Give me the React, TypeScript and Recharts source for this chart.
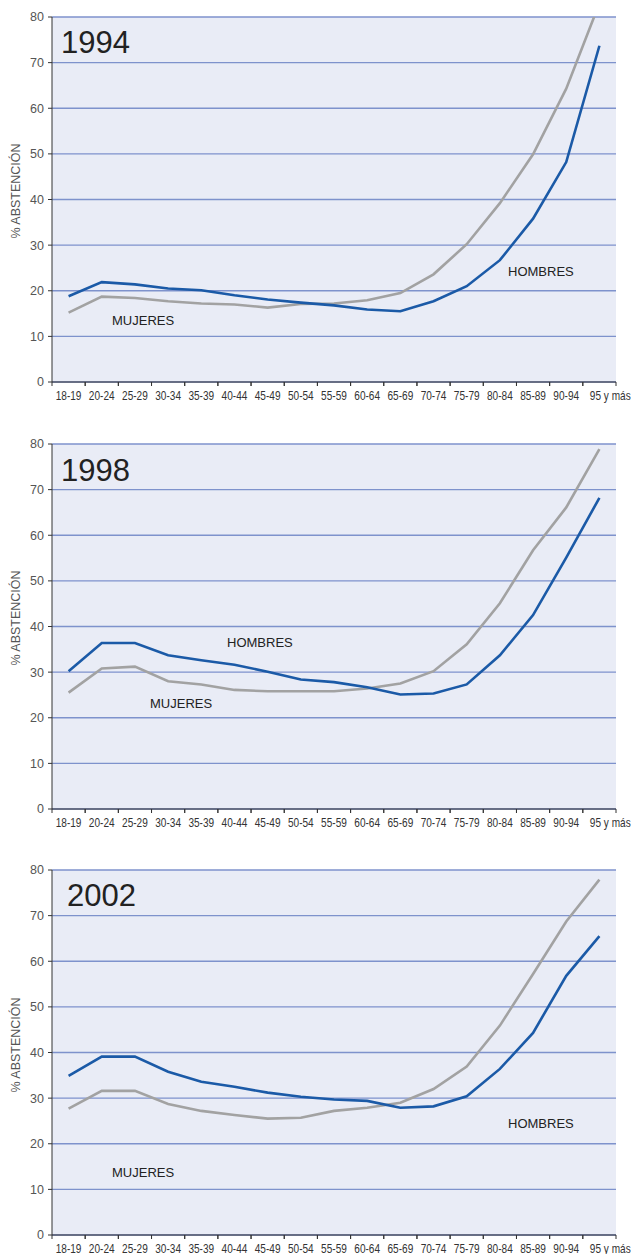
import { CartesianGrid, Line, LineChart, XAxis, YAxis } from "recharts";

const CATEGORIAS = [
  "18-19", "20-24", "25-29", "30-34", "35-39", "40-44", "45-49", "50-54", "55-59",
  "60-64", "65-69", "70-74", "75-79", "80-84", "85-89", "90-94", "95 y más",
];

const HOMBRES_1994 = [18.8, 21.9, 21.4, 20.5, 20.1, 19.0, 18.1, 17.4, 16.8, 15.9, 15.5, 17.7, 21.0, 26.7, 35.8, 48.2, 73.7];
const MUJERES_1994 = [15.2, 18.7, 18.4, 17.7, 17.2, 17.0, 16.3, 17.1, 17.2, 17.9, 19.5, 23.6, 30.2, 39.2, 49.9, 64.3, 83.0];

const HOMBRES_1998 = [30.2, 36.4, 36.4, 33.7, 32.6, 31.6, 30.1, 28.4, 27.8, 26.7, 25.1, 25.3, 27.3, 33.7, 42.5, 55.1, 68.2];
const MUJERES_1998 = [25.5, 30.8, 31.2, 28.0, 27.3, 26.1, 25.8, 25.8, 25.8, 26.4, 27.5, 30.2, 36.1, 45.1, 56.7, 66.1, 78.9];

const HOMBRES_2002 = [34.9, 39.1, 39.1, 35.8, 33.6, 32.5, 31.2, 30.3, 29.7, 29.4, 27.9, 28.2, 30.4, 36.4, 44.3, 56.8, 65.5];
const MUJERES_2002 = [27.7, 31.6, 31.6, 28.7, 27.2, 26.3, 25.5, 25.7, 27.2, 27.9, 29.0, 32.0, 36.9, 45.9, 57.2, 68.7, 77.9];

const Y_TICKS = [0, 10, 20, 30, 40, 50, 60, 70, 80];

const CHART_W = 636;
const Y_AXIS_W = 52;
const RIGHT_M = 20;
const TOP_M = 10;
const PLOT_H = 365;
const X_AXIS_H = 30;
const BAND = (CHART_W - Y_AXIS_W - RIGHT_M) / CATEGORIAS.length;

const AZUL = "#1b5aa7";
const GRIS = "#a2a2a2";
const REJILLA = "#7e92cc";
const FONDO = "#e9ecf6";
const SANS = "'Liberation Sans', Arial, Helvetica, sans-serif";

// the age labels are set in a condensed face; squeeze the regular one.
// the last label is pushed right so it clears its neighbour, as in the original
function EdadTick(props: any) {
  const { x, y, payload } = props;
  const half = BAND / 2;
  const ultimo = payload.index === CATEGORIAS.length - 1;
  const tx = ultimo ? x - half + 7 : x;
  return (
    <g>
      <line x1={x - half} x2={x - half} y1={y} y2={y + 4} stroke="#333" />
      <line x1={x + half} x2={x + half} y1={y} y2={y + 4} stroke="#333" />
      <text
        transform={`translate(${tx},${y + 18}) scale(0.84,1)`}
        textAnchor={ultimo ? "start" : "middle"}
        fontSize={12}
        fontFamily={SANS}
        fill="#333"
      >
        {payload.value}
      </text>
    </g>
  );
}

type PanelProps = {
  top: number;
  hombres: number[];
  mujeres: number[];
};

function Panel({ top, hombres, mujeres }: PanelProps) {
  const data = CATEGORIAS.map((edad, i) => ({ edad, hombres: hombres[i], mujeres: mujeres[i] }));
  return (
    <div style={{ position: "absolute", left: 0, top }}>
      <LineChart
        width={CHART_W}
        height={TOP_M + PLOT_H + X_AXIS_H}
        data={data}
        margin={{ top: TOP_M, right: RIGHT_M, bottom: 0, left: 0 }}
      >
        <CartesianGrid vertical={false} stroke={REJILLA} strokeWidth={1.3} fill={FONDO} fillOpacity={1} />
        <XAxis
          dataKey="edad"
          scale="band"
          interval={0}
          height={X_AXIS_H}
          tickLine={false}
          tickSize={0}
          tickMargin={0}
          axisLine={{ stroke: "#333" }}
          tick={<EdadTick />}
        />
        <YAxis
          width={Y_AXIS_W}
          domain={[0, 80]}
          ticks={Y_TICKS}
          allowDataOverflow
          tickSize={4}
          tickMargin={4}
          tickLine={{ stroke: "#333" }}
          axisLine={{ stroke: "#333" }}
          tick={{ fill: "#555", fontSize: 12.5, fontFamily: SANS }}
        />
        <YAxis
          yAxisId="borde"
          orientation="right"
          width={0}
          domain={[0, 80]}
          tick={false}
          tickLine={false}
          axisLine={{ stroke: "#8a9bd2", strokeWidth: 2 }}
        />
        <Line dataKey="mujeres" stroke={GRIS} strokeWidth={2.6} dot={false} isAnimationActive={false} />
        <Line dataKey="hombres" stroke={AZUL} strokeWidth={2.6} dot={false} isAnimationActive={false} />
      </LineChart>
    </div>
  );
}

export default function App() {
  const etiqueta = { fontFamily: SANS, fontSize: 13, fill: "#222" };
  const anio = { fontFamily: SANS, fontSize: 31, fill: "#222" };
  const eje = { fontFamily: SANS, fontSize: 12.5, fill: "#555" };
  return (
    <div style={{ position: "absolute", left: 0, top: 0, width: 636, height: 1254, background: "#fff" }}>
      <Panel top={6.5} hombres={HOMBRES_1994} mujeres={MUJERES_1994} />
      <Panel top={433.5} hombres={HOMBRES_1998} mujeres={MUJERES_1998} />
      <Panel top={859.5} hombres={HOMBRES_2002} mujeres={MUJERES_2002} />
      <svg
        width={636}
        height={1254}
        style={{ position: "absolute", left: 0, top: 0, pointerEvents: "none" }}
      >
        <text x={61} y={53} {...anio}>1994</text>
        <text x={112} y={325} {...etiqueta}>MUJERES</text>
        <text x={508} y={276} {...etiqueta}>HOMBRES</text>
        <text transform="translate(20,191) rotate(-90)" textAnchor="middle" {...eje}>% ABSTENCIÓN</text>

        <text x={61} y={481} {...anio}>1998</text>
        <text x={227} y={647} {...etiqueta}>HOMBRES</text>
        <text x={150} y={708} {...etiqueta}>MUJERES</text>
        <text transform="translate(20,618) rotate(-90)" textAnchor="middle" {...eje}>% ABSTENCIÓN</text>

        <text x={67} y={906} {...anio}>2002</text>
        <text x={508} y={1128} {...etiqueta}>HOMBRES</text>
        <text x={112} y={1177} {...etiqueta}>MUJERES</text>
        <text transform="translate(20,1045) rotate(-90)" textAnchor="middle" {...eje}>% ABSTENCIÓN</text>
      </svg>
    </div>
  );
}
